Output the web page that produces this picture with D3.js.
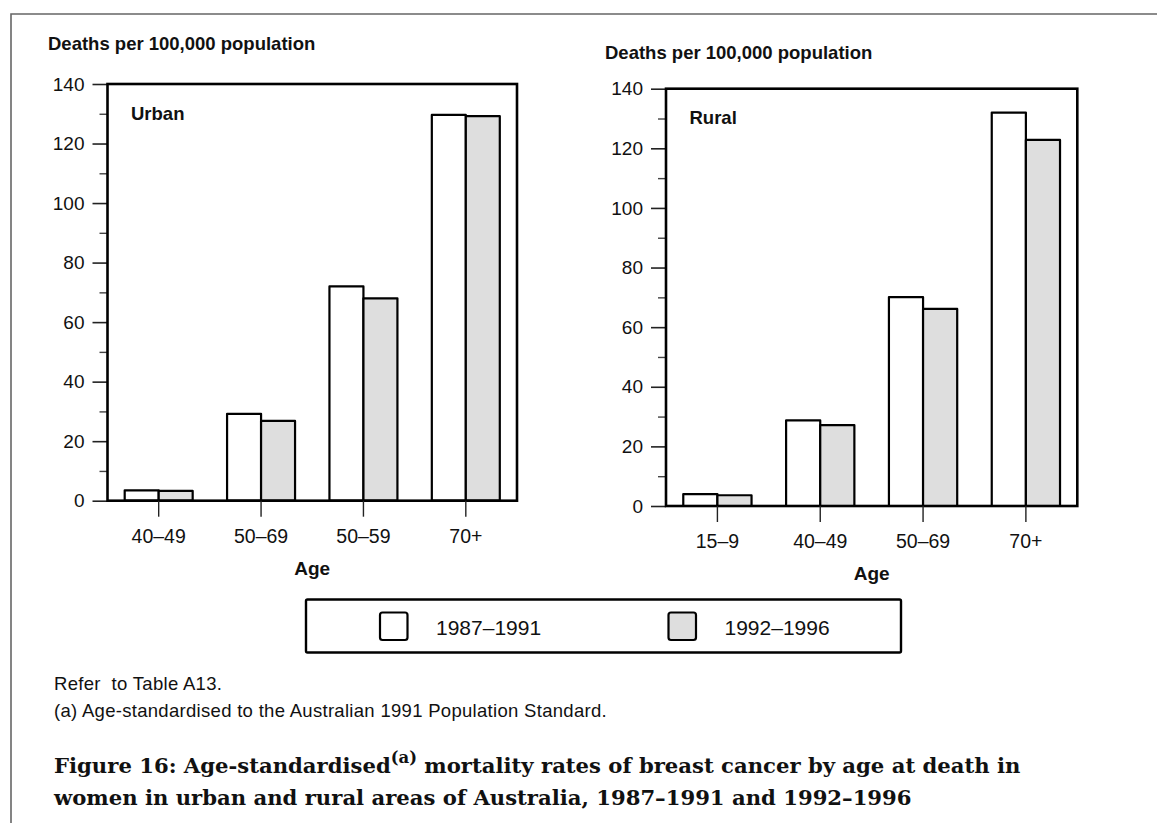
<!DOCTYPE html>
<html>
<head>
<meta charset="utf-8">
<script src="https://cdn.jsdelivr.net/npm/d3@7"></script>
<style>
  html, body { margin: 0; padding: 0; background: #fff; }
  svg { display: block; }
  .sans { font-family: "Liberation Sans", Arial, Helvetica, sans-serif; }
  .serif { font-family: "DejaVu Serif", "Liberation Serif", serif; }
</style>
</head>
<body>
<svg id="fig" width="1157" height="823"></svg>
<script>
// Breast cancer mortality, deaths per 100,000 population
const seriesNames = ["1987–1991", "1992–1996"];
const seriesFill = ["#ffffff", "#dedede"];

const urbanAges = ["40–49", "50–69", "50–59", "70+"];
const urban1987 = [3.5, 29.2, 72.0, 129.6];
const urban1992 = [3.3, 26.8, 68.0, 129.2];

const ruralAges = ["15–9", "40–49", "50–69", "70+"];
const rural1987 = [4.0, 28.7, 70.1, 132.0];
const rural1992 = [3.6, 27.1, 66.1, 122.8];

const majorTicks = [0, 20, 40, 60, 80, 100, 120, 140];
const minorTicks = [10, 30, 50, 70, 90, 110, 130];

const svg = d3.select("#fig");
svg.append("rect").attr("width", 1157).attr("height", 823).attr("fill", "#fff");

// page frame (top and left rules)
svg.append("path")
  .attr("d", "M11,823 L11,14 L1157,14")
  .attr("fill", "none").attr("stroke", "#666").attr("stroke-width", 1.6);

function panel(opt) {
  const { x0, x1, y0, y1, ages, a, b, label, titleX, titleY } = opt;
  const g = svg.append("g").attr("class", "sans");

  const y = d3.scaleLinear().domain([0, 140]).range([y1, y0]);
  const x = d3.scaleBand().domain(ages).range([x0, x1])
    .paddingInner(0.336).paddingOuter(0.168);
  const xs = d3.scaleBand().domain(seriesNames).range([0, x.bandwidth()]);

  // axis title
  g.append("text").attr("x", titleX).attr("y", titleY)
    .attr("font-size", 18.5).attr("font-weight", "bold").attr("fill", "#111")
    .text("Deaths per 100,000 population");

  // minor y ticks
  const minor = g.append("g").attr("transform", `translate(${x0},0)`)
    .call(d3.axisLeft(y).tickValues(minorTicks).tickSize(8).tickFormat(""));
  minor.select(".domain").remove();
  minor.selectAll("line").attr("stroke", "#444").attr("stroke-width", 1.4);

  // major y ticks with labels
  const major = g.append("g").attr("transform", `translate(${x0},0)`)
    .call(d3.axisLeft(y).tickValues(majorTicks).tickSize(15).tickPadding(8));
  major.select(".domain").remove();
  major.selectAll("line").attr("stroke", "#222").attr("stroke-width", 1.6);
  major.selectAll("text").attr("font-size", 19).attr("fill", "#111")
    .attr("font-family", "Liberation Sans, Arial, sans-serif");

  // bars
  const rows = ages.map((age, i) => ({ age, vals: [a[i], b[i]] }));
  const grp = g.selectAll("g.grp").data(rows).join("g")
    .attr("class", "grp")
    .attr("transform", d => `translate(${x(d.age)},0)`);
  grp.selectAll("rect").data(d => d.vals.map((v, k) => ({ v, k })))
    .join("rect")
    .attr("x", d => xs(seriesNames[d.k]))
    .attr("width", xs.bandwidth())
    .attr("y", d => y(d.v))
    .attr("height", d => y(0) - y(d.v))
    .attr("fill", d => seriesFill[d.k])
    .attr("stroke", "#000").attr("stroke-width", 2.2)
    .attr("stroke-linejoin", "round");

  // plot frame
  g.append("rect").attr("x", x0).attr("y", y0)
    .attr("width", x1 - x0).attr("height", y1 - y0)
    .attr("fill", "none").attr("stroke", "#000").attr("stroke-width", 2.6);

  // x axis ticks and labels
  const xa = g.append("g").attr("transform", `translate(0,${y1})`)
    .call(d3.axisBottom(x).tickSize(16).tickPadding(12));
  xa.select(".domain").remove();
  xa.selectAll("line").attr("stroke", "#222").attr("stroke-width", 1.4);
  xa.selectAll("text").attr("font-size", 19.5).attr("fill", "#111")
    .attr("font-family", "Liberation Sans, Arial, sans-serif");

  g.append("text").attr("x", (x0 + x1) / 2).attr("y", y1 + 74)
    .attr("text-anchor", "middle").attr("font-size", 19)
    .attr("font-weight", "bold").attr("fill", "#111").text("Age");

  // panel label
  g.append("text").attr("x", x0 + 23.5).attr("y", y0 + 35.5)
    .attr("font-size", 18.5).attr("font-weight", "bold").attr("fill", "#111")
    .text(label);
}

panel({ x0: 107.5, x1: 517, y0: 84, y1: 500.7, ages: urbanAges,
        a: urban1987, b: urban1992, label: "Urban", titleX: 48, titleY: 50 });
panel({ x0: 666, x1: 1077.3, y0: 88.7, y1: 506, ages: ruralAges,
        a: rural1987, b: rural1992, label: "Rural", titleX: 605, titleY: 59 });

// legend
const leg = svg.append("g").attr("class", "sans");
leg.append("rect").attr("x", 306).attr("y", 599.5).attr("width", 595).attr("height", 53)
  .attr("rx", 1.5).attr("fill", "#fff").attr("stroke", "#000").attr("stroke-width", 2.4);
const legX = [380, 668.5];
seriesNames.forEach((s, i) => {
  leg.append("rect").attr("x", legX[i]).attr("y", 612.5).attr("width", 27.5).attr("height", 27.5)
    .attr("rx", 2.5).attr("fill", seriesFill[i]).attr("stroke", "#000").attr("stroke-width", 2.2);
  leg.append("text").attr("x", legX[i] + 56).attr("y", 635)
    .attr("font-size", 21).attr("fill", "#111").text(s);
});

// notes
const notes = svg.append("g").attr("class", "sans").attr("fill", "#111")
  .attr("font-size", 18.5).attr("letter-spacing", 0.3);
notes.append("text").attr("x", 54).attr("y", 690)
  .style("white-space", "pre").text("Refer  to Table A13.");
notes.append("text").attr("x", 54).attr("y", 717)
  .text("(a) Age-standardised to the Australian 1991 Population Standard.");

// figure caption, sized so the second line spans its column
const cap = svg.append("g").attr("class", "serif").attr("fill", "#111")
  .attr("font-weight", "bold").attr("font-size", 20);
const l1 = cap.append("text").attr("x", 54).attr("y", 773);
l1.append("tspan").text("Figure 16: Age-standardised");
l1.append("tspan").attr("class", "sup").attr("dy", -9).attr("font-size", 15.5).text("(a)");
l1.append("tspan").attr("class", "rest").attr("dy", 9).text(" mortality rates of breast cancer by age at death in");
const l2 = cap.append("text").attr("x", 54).attr("y", 805)
  .text("women in urban and rural areas of Australia, 1987–1991 and 1992–1996");
const fit = 20 * 858 / l2.node().getComputedTextLength();
cap.attr("font-size", fit);
l1.select(".sup").attr("font-size", fit * 0.78).attr("dy", -fit * 0.45);
l1.select(".rest").attr("dy", fit * 0.45);
</script>
</body>
</html>
